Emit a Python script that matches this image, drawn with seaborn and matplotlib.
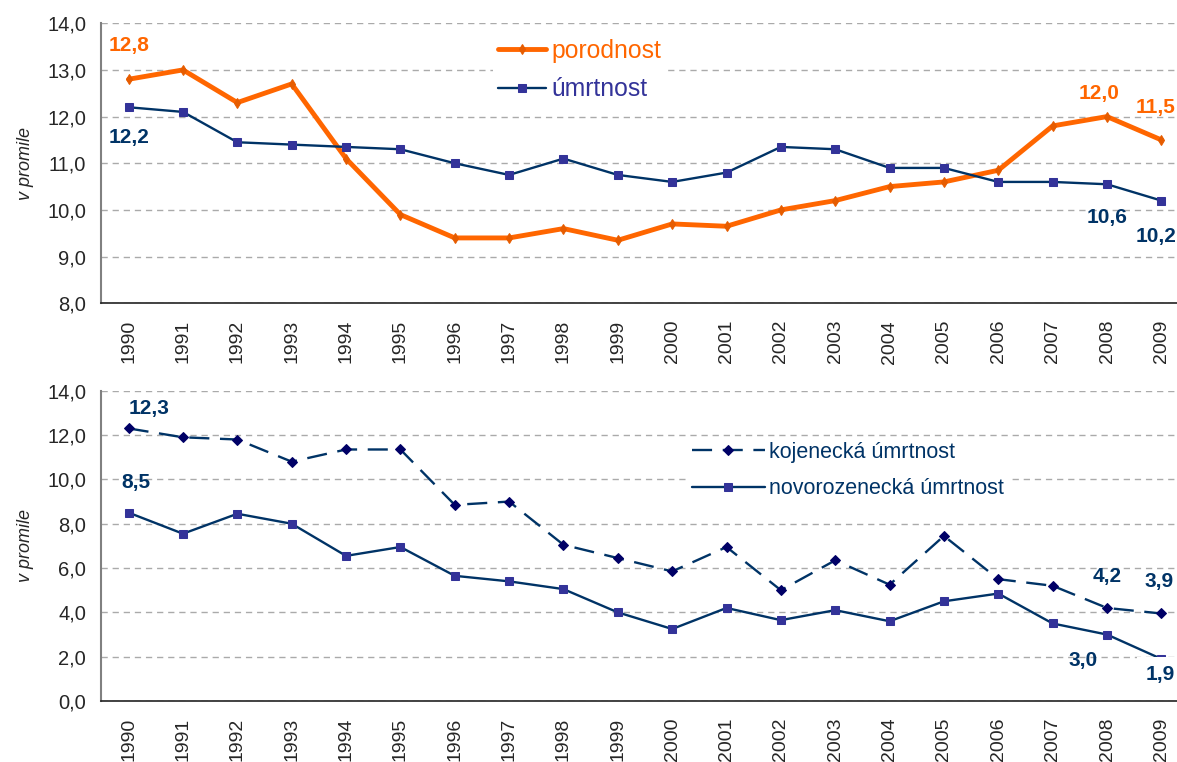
import numpy as np
import pandas as pd
import matplotlib
matplotlib.use("Agg")
import matplotlib.pyplot as plt
import seaborn as sns
from matplotlib.ticker import FuncFormatter, FixedLocator

years = list(range(1990, 2010))
porodnost = [12.8, 13.0, 12.3, 12.7, 11.1, 9.9, 9.4, 9.4, 9.6, 9.35,
             9.7, 9.65, 10.0, 10.2, 10.5, 10.6, 10.85, 11.8, 12.0, 11.5]
umrtnost = [12.2, 12.1, 11.45, 11.4, 11.35, 11.3, 11.0, 10.75, 11.1, 10.75,
            10.6, 10.8, 11.35, 11.3, 10.9, 10.9, 10.6, 10.6, 10.55, 10.2]
kojenecka = [12.3, 11.9, 11.8, 10.8, 11.35, 11.35, 8.85, 9.0, 7.05, 6.45,
             5.85, 6.95, 5.0, 6.35, 5.25, 7.45, 5.5, 5.2, 4.2, 3.95]
novorozenecka = [8.5, 7.55, 8.45, 8.0, 6.55, 6.95, 5.65, 5.4, 5.05, 4.0,
                 3.25, 4.2, 3.65, 4.1, 3.6, 4.5, 4.85, 3.5, 3.0, 1.9]

ORANGE = "#FF6600"
NAVY = "#003366"
PURPLE = "#333399"

top = pd.DataFrame({"rok": years, "porodnost": porodnost, "úmrtnost": umrtnost})
bottom = pd.DataFrame({"rok": years, "kojenecká úmrtnost": kojenecka,
                       "novorozenecká úmrtnost": novorozenecka})

sns.set_style("white")
plt.rcParams["font.family"] = ["Liberation Sans", "DejaVu Sans"]

fig = plt.figure(figsize=(11.77, 7.62), dpi=100)
ax1 = fig.add_axes([0.0862, 0.602, 0.9236, 0.3675])
ax2 = fig.add_axes([0.0862, 0.080, 0.9236, 0.4072])

sns.lineplot(data=top, x="rok", y="porodnost", ax=ax1, color=ORANGE, lw=3.5,
             marker="d", markersize=5, markeredgecolor="#E65C00",
             markerfacecolor="#E65C00", label="porodnost")
sns.lineplot(data=top, x="rok", y="úmrtnost", ax=ax1, color=NAVY, lw=1.7,
             marker="s", markersize=5.5, markerfacecolor=PURPLE,
             markeredgecolor=PURPLE, label="úmrtnost")

sns.lineplot(data=bottom, x="rok", y="kojenecká úmrtnost", ax=ax2, color=NAVY,
             lw=1.7, dashes=(8.5, 4.5), marker="D", markersize=5,
             markerfacecolor="#000066", markeredgecolor="#000066",
             label="kojenecká úmrtnost")
sns.lineplot(data=bottom, x="rok", y="novorozenecká úmrtnost", ax=ax2,
             color=NAVY, lw=1.7, marker="s", markersize=5.5,
             markerfacecolor=PURPLE, markeredgecolor=PURPLE,
             label="novorozenecká úmrtnost")

fmt = FuncFormatter(lambda v, p: f"{v:.1f}".replace(".", ","))
for ax, lo, hi, step in [(ax1, 8, 14, 1), (ax2, 0, 14, 2)]:
    ax.set_ylim(lo, hi)
    ax.set_xlim(1989.5, 2009.5)
    ax.set_yticks(np.arange(lo, hi + 0.01, step))
    ax.yaxis.set_major_formatter(fmt)
    ax.set_xticks(years)
    ax.set_xticklabels([str(y) for y in years], rotation=90)
    ax.xaxis.set_minor_locator(FixedLocator(np.arange(1989.5, 2010, 1)))
    ax.tick_params(axis="x", which="major", length=0, pad=12, labelsize=14)
    ax.tick_params(axis="x", which="minor", length=4.5, width=1.2,
                   color="#333333", direction="out")
    ax.tick_params(axis="y", length=4, width=1.2, color="#808080",
                   direction="out", pad=7, labelsize=14.5)
    ax.grid(axis="y", color="#AAAAAA", linestyle=(0, (4.5, 3.5)), lw=1)
    ax.set_axisbelow(True)
    for s in ["top", "right"]:
        ax.spines[s].set_visible(False)
    ax.spines["left"].set_color("#808080")
    ax.spines["left"].set_linewidth(1.5)
    ax.spines["bottom"].set_color("#222222")
    ax.spines["bottom"].set_linewidth(1.2)
    ax.set_xlabel("")
    ax.set_ylabel("v promile", fontsize=13, style="italic")
    ax.yaxis.set_label_coords(-0.062, 0.5)

leg1 = ax1.legend(loc="center left", bbox_to_anchor=(0.360, 0.833),
                  fontsize=17.8, handlelength=1.96, handletextpad=0.2,
                  labelspacing=0.59, borderpad=0.2, borderaxespad=0,
                  frameon=True, facecolor="white", edgecolor="none",
                  framealpha=1)
for t, c in zip(leg1.get_texts(), [ORANGE, PURPLE]):
    t.set_color(c)
leg2 = ax2.legend(loc="center left", bbox_to_anchor=(0.539, 0.743),
                  fontsize=15.5, handlelength=3.4, handletextpad=0.19,
                  labelspacing=0.74, borderpad=0.2, borderaxespad=0,
                  frameon=True, facecolor="white", edgecolor="none",
                  framealpha=1)
for t in leg2.get_texts():
    t.set_color(NAVY)

bold = dict(fontsize=15, fontweight="bold", ha="center", va="center")
box = dict(facecolor="white", edgecolor="none", pad=3)
ax1.text(1990, porodnost[0] + 0.72, "12,8", color=ORANGE, **bold)
ax1.text(1990, umrtnost[0] - 0.64, "12,2", color=NAVY, **bold)
ax1.text(2007.85, porodnost[18] + 0.49, "12,0", color=ORANGE, **bold)
ax1.text(2008.9, porodnost[19] + 0.7, "11,5", color=ORANGE, **bold)
ax1.text(2008, umrtnost[18] - 0.71, "10,6", color=NAVY, **bold)
ax1.text(2008.9, umrtnost[19] - 0.76, "10,2", color=NAVY, bbox=box, **bold)

ax2.text(1990.38, kojenecka[0] + 0.92, "12,3", color=NAVY, **bold)
ax2.text(1990.13, novorozenecka[0] + 1.38, "8,5", color=NAVY, **bold)
ax2.text(2008, kojenecka[18] + 1.43, "4,2", color=NAVY, **bold)
ax2.text(2008.95, kojenecka[19] + 1.43, "3,9", color=NAVY, **bold)
ax2.text(2007.56, novorozenecka[18] - 1.18, "3,0", color=NAVY, **bold)
ax2.text(2008.98, novorozenecka[19] - 0.71, "1,9", color=NAVY,
         bbox=dict(facecolor="white", edgecolor="none", pad=6), **bold)

fig.savefig("out.png", dpi=100)
